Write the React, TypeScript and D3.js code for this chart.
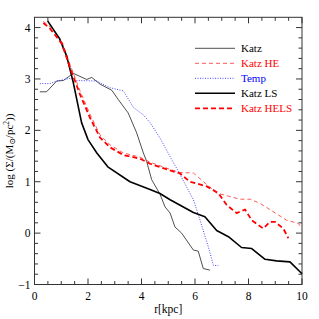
import React from 'react';
import * as d3 from 'd3';

// profiles: [r (kpc), log Sigma]
const katz: [number, number][] = [
  [0.2, 2.75], [0.45, 2.75], [0.83, 2.96], [1.08, 2.97], [1.45, 3.11], [1.95, 2.99],
  [2.14, 3.03], [2.45, 2.9], [2.89, 2.78], [3.13, 2.6], [3.5, 2.34], [3.82, 1.95],
  [4.07, 1.56], [4.19, 1.4], [4.38, 1.04], [4.69, 0.76], [4.88, 0.51], [5.07, 0.39],
  [5.25, 0.12], [5.5, 0.0], [5.94, -0.33], [6.12, -0.35], [6.31, -0.69], [6.56, -0.72],
];
const katzHE: [number, number][] = [
  [0.33, 4.12], [0.58, 4.02], [1.02, 3.74], [1.33, 3.28], [1.7, 2.77], [2.07, 2.32],
  [2.45, 1.91], [2.82, 1.72], [3.32, 1.56], [3.94, 1.48], [4.32, 1.38], [5.07, 1.24],
  [5.44, 1.18], [5.94, 1.17], [6.81, 0.78], [7.68, 0.66], [8.06, 0.66], [8.43, 0.58],
  [9.43, 0.25], [9.86, 0.19], [10, 0.09],
];
const temp: [number, number][] = [
  [0.2, 2.91], [0.58, 2.91], [0.83, 2.96], [1.33, 3.01], [1.58, 2.97], [2.33, 2.96],
  [2.82, 2.83], [3.32, 2.77], [3.69, 2.45], [4.07, 2.3], [4.32, 2.15], [4.69, 1.85],
  [5.13, 1.43], [5.38, 1.2], [5.94, 0.65], [6.19, 0.25], [6.5, -0.27], [6.69, -0.63],
  [6.87, -0.63],
];
const katzLS: [number, number][] = [
  [0.49, 4.13], [0.93, 3.79], [1.2, 3.45], [1.45, 2.93], [1.76, 2.15], [2.0, 1.82],
  [2.33, 1.56], [2.74, 1.29], [3.57, 1.0], [4.32, 0.85], [4.69, 0.77], [5.07, 0.65],
  [5.94, 0.4], [6.37, 0.32], [6.81, 0.05], [7.25, -0.07], [7.74, -0.28], [8.12, -0.3],
  [8.62, -0.51], [9.05, -0.54], [9.55, -0.56], [10, -0.79],
];
const katzHELS: [number, number][] = [
  [0.33, 4.09], [0.58, 3.98], [1.02, 3.69], [1.33, 3.22], [1.7, 2.7], [2.07, 2.25],
  [2.45, 1.86], [2.82, 1.67], [3.32, 1.52], [3.94, 1.45], [4.32, 1.35], [5.07, 1.22],
  [5.44, 1.16], [5.81, 1.0], [6.44, 0.91], [6.87, 0.78], [7.18, 0.55], [7.56, 0.39],
  [7.87, 0.46], [8.12, 0.25], [8.55, 0.09], [8.8, 0.22], [8.99, 0.22], [9.3, 0.09],
  [9.49, -0.1],
];

const xTicks = [0, 2, 4, 6, 8, 10];
const yTicks = [-1, 0, 1, 2, 3, 4];

const series = [
  { name: 'Katz', data: katz, color: '#222', width: 0.8, dash: '', label: '#000' },
  { name: 'Katz HE', data: katzHE, color: '#ff3030', width: 0.8, dash: '4,3', label: '#ff0000' },
  { name: 'Temp', data: temp, color: '#3030ff', width: 0.9, dash: '1,1.5', label: '#0000ff' },
  { name: 'Katz LS', data: katzLS, color: '#000', width: 1.6, dash: '', label: '#000' },
  { name: 'Katz HELS', data: katzHELS, color: '#ff0000', width: 1.8, dash: '5,3', label: '#ff0000' },
];

const W = 319, H = 319;
const left = 34.5, right = 302, top = 17.3, bottom = 284.5;
const font = '"Liberation Serif", "DejaVu Serif", serif';

export default function App() {
  const x = d3.scaleLinear().domain([0, 10]).range([left, right]);
  const y = d3.scaleLinear().domain([-1, 4.2]).range([bottom, top]);
  const line = d3.line<[number, number]>().x(d => x(d[0])).y(d => y(d[1]));

  const xMinor = d3.range(0, 10.001, 0.5);
  const yMinor = d3.range(-1, 4.2, 0.2);

  return (
    <svg width={W} height={H} style={{ position: 'absolute', left: 0, top: 0 }}>
      <rect width={W} height={H} fill="#fff" />
      <g stroke="#000" strokeWidth={0.8}>
        {xMinor.map((v, i) => {
          const major = Math.abs(v - Math.round(v / 2) * 2) < 1e-6;
          const len = major ? 6 : 3.5;
          return (
            <g key={'x' + i}>
              <line x1={x(v)} x2={x(v)} y1={bottom} y2={bottom - len} />
              <line x1={x(v)} x2={x(v)} y1={top} y2={top + len} />
            </g>
          );
        })}
        {yMinor.map((v, i) => {
          const major = Math.abs(v - Math.round(v)) < 1e-6;
          const len = major ? 6 : 3.5;
          return (
            <g key={'y' + i}>
              <line x1={left} x2={left + len} y1={y(v)} y2={y(v)} />
              <line x1={right} x2={right - len} y1={y(v)} y2={y(v)} />
            </g>
          );
        })}
      </g>
      <rect x={left} y={top} width={right - left} height={bottom - top} fill="none" stroke="#333" strokeWidth={1} />
      {series.map(s => (
        <path key={s.name} d={line(s.data) || ''} fill="none" stroke={s.color}
          strokeWidth={s.width} strokeDasharray={s.dash} strokeLinejoin="round" />
      ))}
      <g fontFamily={font} fontSize={11.5} fill="#000">
        {xTicks.map(t => (
          <text key={'xt' + t} x={x(t)} y={bottom + 15} textAnchor="middle">{t}</text>
        ))}
        {yTicks.map(t => (
          <text key={'yt' + t} x={left - 4} y={y(t) + 4} textAnchor="end">{t < 0 ? '\u2212' + Math.abs(t) : t}</text>
        ))}
        <text x={(left + right) / 2} y={bottom + 28} textAnchor="middle">r[kpc]</text>
        <text transform={`translate(13, ${(top + bottom) / 2}) rotate(-90)`} textAnchor="middle" fontSize={11}>
          log (Σ/(M<tspan dy={2} fontSize={8}>⊙</tspan><tspan dy={-2}>/pc</tspan><tspan dy={-4} fontSize={7.5}>2</tspan><tspan dy={4}>))</tspan>
        </text>
      </g>
      <g fontFamily={font} fontSize={11}>
        {series.map((s, i) => {
          const ly = 48.3 + i * 15;
          return (
            <g key={'lg' + s.name}>
              <line x1={195} x2={235} y1={ly} y2={ly} stroke={s.color} strokeWidth={s.width} strokeDasharray={s.dash} />
              <text x={241} y={ly + 3.5} fill={s.label}>{s.name}</text>
            </g>
          );
        })}
      </g>
    </svg>
  );
}
